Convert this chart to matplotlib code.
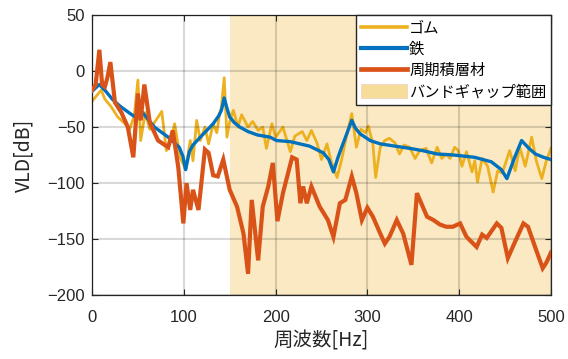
import numpy as np
import matplotlib
matplotlib.use('Agg')
import matplotlib.pyplot as plt
from matplotlib.patches import Patch

plt.rcParams['font.family'] = ['Noto Sans CJK JP', 'DejaVu Sans']

# ゴム (rubber)
rubber_f = [0, 4, 10, 14, 21, 28, 36, 41, 46, 50, 53, 58, 63, 72, 76, 81, 86, 90, 96,
            102, 107, 110, 114, 118, 123, 127, 132, 136, 139, 141, 144, 147, 150, 154,
            159, 163, 170, 175, 181, 186, 190, 196, 200, 208, 216, 221, 229, 234, 239,
            245, 250, 256, 260, 267, 272, 278, 283, 288, 293, 298, 301, 306, 309, 314,
            319, 324, 330, 335, 340, 346, 352, 357, 364, 370, 376, 381, 386, 390, 395,
            399, 403, 408, 414, 417, 420, 425, 431, 437, 442, 447, 455, 461, 466, 472,
            479, 484, 490, 495, 500]
rubber_v = [-27, -23, -17, -25, -32, -41, -47, -52, -40, -8, -62, -37, -52, -41, -36, -71,
            -62, -47, -77, -88, -62, -80, -44, -62, -50, -65, -47, -55, -38, -32, -6, -59,
            -45, -35, -50, -39, -50, -45, -53, -50, -69, -47, -59, -50, -72, -58, -54,
            -62, -53, -64, -79, -65, -79, -95, -79, -55, -38, -68, -52, -55, -49, -65,
            -95, -68, -62, -60, -64, -74, -66, -68, -78, -71, -69, -82, -68, -78, -74,
            -78, -68, -71, -85, -72, -90, -80, -99, -78, -85, -108, -89, -91, -71, -89,
            -68, -85, -59, -80, -96, -80, -69]

# 鉄 (steel)
steel_f = [0, 8, 15, 22, 30, 40, 47, 53, 58, 68, 83, 95, 99, 102, 106, 110, 118, 125,
           132, 138, 141, 144, 147, 150, 155, 161, 170, 180, 194, 201, 216, 237, 252,
           258, 263, 268, 272, 278, 283, 287, 292, 303, 314, 330, 346, 360, 376, 395,
           417, 435, 446, 452, 460, 468, 476, 483, 492, 500]
steel_v = [-18, -12, -18, -25, -31, -37, -41, -35, -40, -50, -59, -68, -76, -88, -72,
           -66, -59, -53, -47, -40, -35, -24, -33, -41, -46, -50, -54, -57, -59, -62,
           -63, -67, -73, -79, -90, -77, -68, -55, -44, -51, -56, -62, -65, -67, -69,
           -71, -74, -75, -77, -81, -88, -96, -78, -62, -69, -74, -77, -79]

# 周期積層材 (periodic laminate)
lam_f = [0, 4, 8, 11, 14, 17, 20, 25, 32, 39, 45, 50, 53, 57, 63, 72, 83, 88, 94, 99.5,
         103, 107, 110, 116, 123, 127, 132, 137, 143, 150, 158, 165, 170, 174, 181, 186,
         192, 197, 202, 208, 218, 223, 227, 230, 234, 239, 248, 257, 263, 270, 276, 283,
         288, 294, 300, 306, 314, 319, 324, 332, 339, 348, 354, 365, 372, 379, 386, 393,
         401, 408, 419, 425, 430, 441, 446, 453, 460, 470, 475, 484, 491, 495, 500]
lam_v = [-17, -12, 19, -12, -14, -5, 8, -28, -37, -50, -77, -20, -44, -12, -46, -62, -68,
         -53, -86, -136, -100, -124, -106, -124, -70, -73, -93, -94, -79, -106, -121,
         -145, -181, -115, -169, -121, -103, -82, -134, -109, -77, -79, -118, -103, -118,
         -103, -121, -133, -148, -118, -115, -94, -109, -133, -122, -130, -145, -154,
         -148, -133, -145, -173, -109, -130, -133, -137, -139, -139, -136, -148, -157,
         -146, -149, -136, -140, -167, -154, -136, -139, -160, -176, -171, -162]

band_gap = (150, 500)

fig = plt.figure(figsize=(5.68, 3.59), dpi=100)
ax = fig.add_axes([0.162, 0.178, 0.808, 0.780])

ax.axvspan(band_gap[0], band_gap[1], color='#EDB120', alpha=0.27, lw=0, zorder=0)
ax.plot(rubber_f, rubber_v, color='#EDB120', lw=2.0, zorder=2)
ax.plot(steel_f, steel_v, color='#0072BD', lw=2.4, zorder=3)
ax.plot(lam_f, lam_v, color='#D95319', lw=3.0, zorder=4, solid_joinstyle='miter')

ax.set_xlim(0, 500)
ax.set_ylim(-200, 50)
ax.set_xticks(np.arange(0, 501, 100))
ax.set_yticks(np.arange(-200, 51, 50))
ax.grid(True, color='black', alpha=0.15, lw=1.5, zorder=1)
ax.set_axisbelow(False)

ax.tick_params(direction='in', length=4, top=True, right=True, colors='#262626',
               labelsize=12)
ax.tick_params(axis='x', pad=11)
ax.tick_params(axis='y', pad=5)
for lab in ax.get_xticklabels() + ax.get_yticklabels():
    lab.set_family(['Liberation Sans', 'DejaVu Sans'])
for sp in ax.spines.values():
    sp.set_color('#262626')
    sp.set_linewidth(0.9)

ax.set_xlabel('周波数[Hz]', fontsize=14, color='#262626', labelpad=4)
ax.set_ylabel('VLD[dB]', fontsize=14, color='#262626', labelpad=9)

handles = [
    plt.Line2D([], [], color='#EDB120', lw=2.6),
    plt.Line2D([], [], color='#0072BD', lw=3.0),
    plt.Line2D([], [], color='#D95319', lw=3.4),
    Patch(facecolor='#F6DE9A', edgecolor='#F0D0C0', lw=0.5),
]
labels = ['ゴム', '鉄', '周期積層材', 'バンドギャップ範囲']
leg = ax.legend(handles, labels, loc='upper right', borderaxespad=0, fontsize=11,
                handlelength=3.0, handleheight=1.0, handletextpad=0.15,
                labelspacing=0.28, borderpad=0.3, fancybox=False, framealpha=1)
leg.get_frame().set_edgecolor('#262626')
leg.get_frame().set_linewidth(1.0)
leg.set_zorder(10)

fig.savefig('out.png', dpi=100)
